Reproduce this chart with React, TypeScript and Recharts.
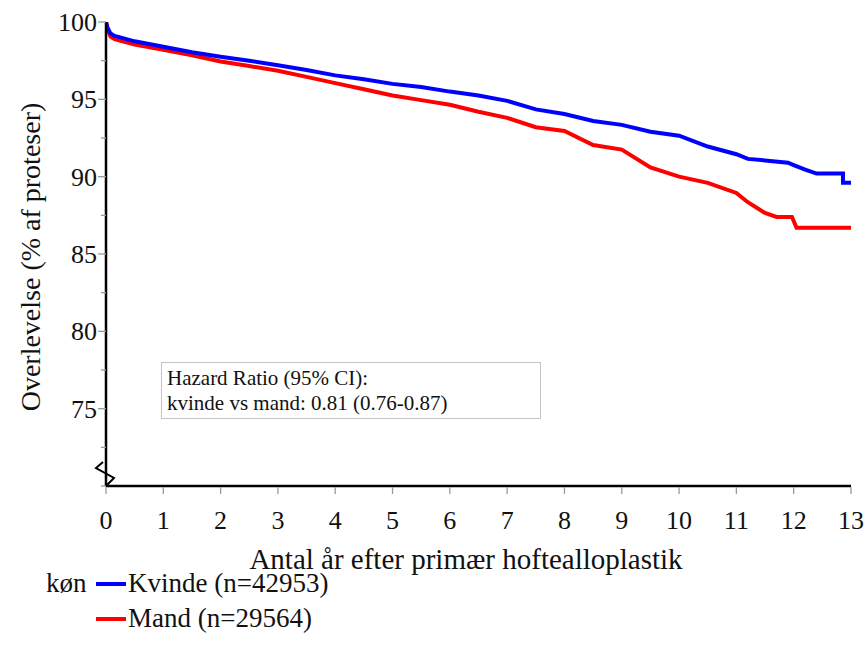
import React from 'react';
import { LineChart, Line, XAxis, YAxis } from 'recharts';

// Years since primary hip arthroplasty
const kvindeYears = [0, 0.03, 0.08, 0.15, 0.5, 1, 1.5, 2, 2.5, 3, 3.5, 4, 4.5, 5, 5.5, 6, 6.5, 7, 7.5, 8, 8.5, 9, 9.5, 10, 10.5, 11, 11.2, 11.5, 11.9, 12.0, 12.2, 12.4, 12.86, 12.86, 13];
const kvindeSurvival = [100, 99.6, 99.25, 99.1, 98.75, 98.4, 98.05, 97.75, 97.5, 97.2, 96.9, 96.55, 96.3, 96.0, 95.8, 95.5, 95.25, 94.9, 94.35, 94.05, 93.6, 93.35, 92.9, 92.65, 91.95, 91.45, 91.15, 91.05, 90.9, 90.75, 90.45, 90.2, 90.2, 89.6, 89.6];

const mandYears = [0, 0.03, 0.08, 0.15, 0.5, 1, 1.5, 2, 2.5, 3, 3.5, 4, 4.5, 5, 5.5, 6, 6.5, 7, 7.5, 8, 8.5, 9, 9.5, 10, 10.5, 11, 11.2, 11.5, 11.7, 11.97, 12.05, 13];
const mandSurvival = [100, 99.5, 99.05, 98.9, 98.55, 98.2, 97.85, 97.45, 97.15, 96.85, 96.45, 96.05, 95.65, 95.25, 94.95, 94.65, 94.2, 93.8, 93.2, 92.95, 92.05, 91.75, 90.6, 90.0, 89.6, 88.95, 88.35, 87.65, 87.4, 87.4, 86.7, 86.7];

const xTicks = [0, 1, 2, 3, 4, 5, 6, 7, 8, 9, 10, 11, 12, 13];
const yTicks = [70, 72.5, 75, 77.5, 80, 82.5, 85, 87.5, 90, 92.5, 95, 97.5, 100];
const yLabelled = [75, 80, 85, 90, 95, 100];

const seriesNames = ['Kvinde (n=42953)', 'Mand (n=29564)'];
const legendTitle = 'køn';
const hazardLines = ['Hazard Ratio (95% CI):', 'kvinde vs mand: 0.81 (0.76-0.87)'];
const xTitle = 'Antal år efter primær hoftealloplastik';
const yTitle = 'Overlevelse (% af proteser)';

const kvindeData = kvindeYears.map((t, i) => ({ t, v: kvindeSurvival[i] }));
const mandData = mandYears.map((t, i) => ({ t, v: mandSurvival[i] }));

const W = 867;
const H = 659;
const FONT = '"Liberation Serif", "Times New Roman", serif';
const BLUE = '#0000ff';
const RED = '#ff0000';

const YTick = (props: any) => {
  const { x, y, payload } = props;
  const v = payload.value;
  const major = yLabelled.includes(v);
  return (
    <g>
      <line x1={x - (major ? 8 : 5)} x2={x} y1={y} y2={y} stroke="#9a9a9a" strokeWidth={1.3} />
      {major && (
        <text x={x - 9} y={y} dy={9} textAnchor="end" fontFamily={FONT} fontSize={26} fill="#111">
          {v}
        </text>
      )}
    </g>
  );
};

const XTick = (props: any) => {
  const { x, y, payload } = props;
  return (
    <g>
      <line x1={x} x2={x} y1={y + 1} y2={y + 8} stroke="#9a9a9a" strokeWidth={1.3} />
      <text x={x} y={y + 43} textAnchor="middle" fontFamily={FONT} fontSize={26} fill="#111">
        {payload.value}
      </text>
    </g>
  );
};

export default function App() {
  return (
    <div style={{ position: 'absolute', left: 0, top: 0, width: W, height: H, background: '#fff', fontFamily: FONT }}>
      <LineChart width={W} height={H} margin={{ top: 22, right: 16, bottom: 113, left: 0 }}>
        <XAxis
          type="number"
          dataKey="t"
          domain={[0, 13]}
          ticks={xTicks}
          interval={0}
          tickSize={0}
          tickMargin={0}
          tickLine={false}
          tick={<XTick />}
          axisLine={{ stroke: '#000', strokeWidth: 2.5 }}
          height={60}
          allowDataOverflow
        />
        <YAxis
          type="number"
          domain={[70, 100]}
          ticks={yTicks}
          interval={0}
          width={106}
          tickSize={0}
          tickMargin={0}
          tickLine={false}
          tick={<YTick />}
          axisLine={{ stroke: '#000', strokeWidth: 2.5 }}
          allowDataOverflow
        />
        <Line data={mandData} dataKey="v" type="linear" stroke={RED} strokeWidth={4} dot={false} isAnimationActive={false} name={seriesNames[1]} />
        <Line data={kvindeData} dataKey="v" type="linear" stroke={BLUE} strokeWidth={4} dot={false} isAnimationActive={false} name={seriesNames[0]} />
      </LineChart>

      {/* axis break symbol and axis titles */}
      <svg style={{ position: 'absolute', left: 0, top: 0, pointerEvents: 'none' }} width={W} height={H}>
        <polyline points="103,462 96,468 114,478 106,486" fill="none" stroke="#000" strokeWidth={2} />
        <text
          transform={`translate(40, 257) rotate(-90)`}
          textAnchor="middle"
          fontFamily={FONT}
          fontSize={28}
          fill="#111"
        >
          {yTitle}
        </text>
        <text x={466} y={569} textAnchor="middle" fontFamily={FONT} fontSize={29} fill="#111">
          {xTitle}
        </text>
      </svg>

      {/* hazard ratio box */}
      <div
        style={{
          position: 'absolute',
          left: 161,
          top: 362,
          width: 380,
          height: 57,
          boxSizing: 'border-box',
          border: '1.5px solid #c4c4c4',
          padding: '3px 0 0 5px',
          fontSize: 21,
          lineHeight: '25px',
          color: '#111',
          background: '#fff',
        }}
      >
        <div>{hazardLines[0]}</div>
        <div>{hazardLines[1]}</div>
      </div>

      {/* legend */}
      <div style={{ position: 'absolute', left: 46, top: 566, fontSize: 27, lineHeight: '35px', color: '#111' }}>
        <div style={{ display: 'flex', alignItems: 'center' }}>
          <span style={{ width: 50 }}>{legendTitle}</span>
          <span style={{ display: 'inline-block', width: 30, height: 4, background: BLUE, marginRight: 2 }} />
          <span>{seriesNames[0]}</span>
        </div>
        <div style={{ display: 'flex', alignItems: 'center' }}>
          <span style={{ width: 50 }} />
          <span style={{ display: 'inline-block', width: 30, height: 4, background: RED, marginRight: 2 }} />
          <span>{seriesNames[1]}</span>
        </div>
      </div>
    </div>
  );
}
